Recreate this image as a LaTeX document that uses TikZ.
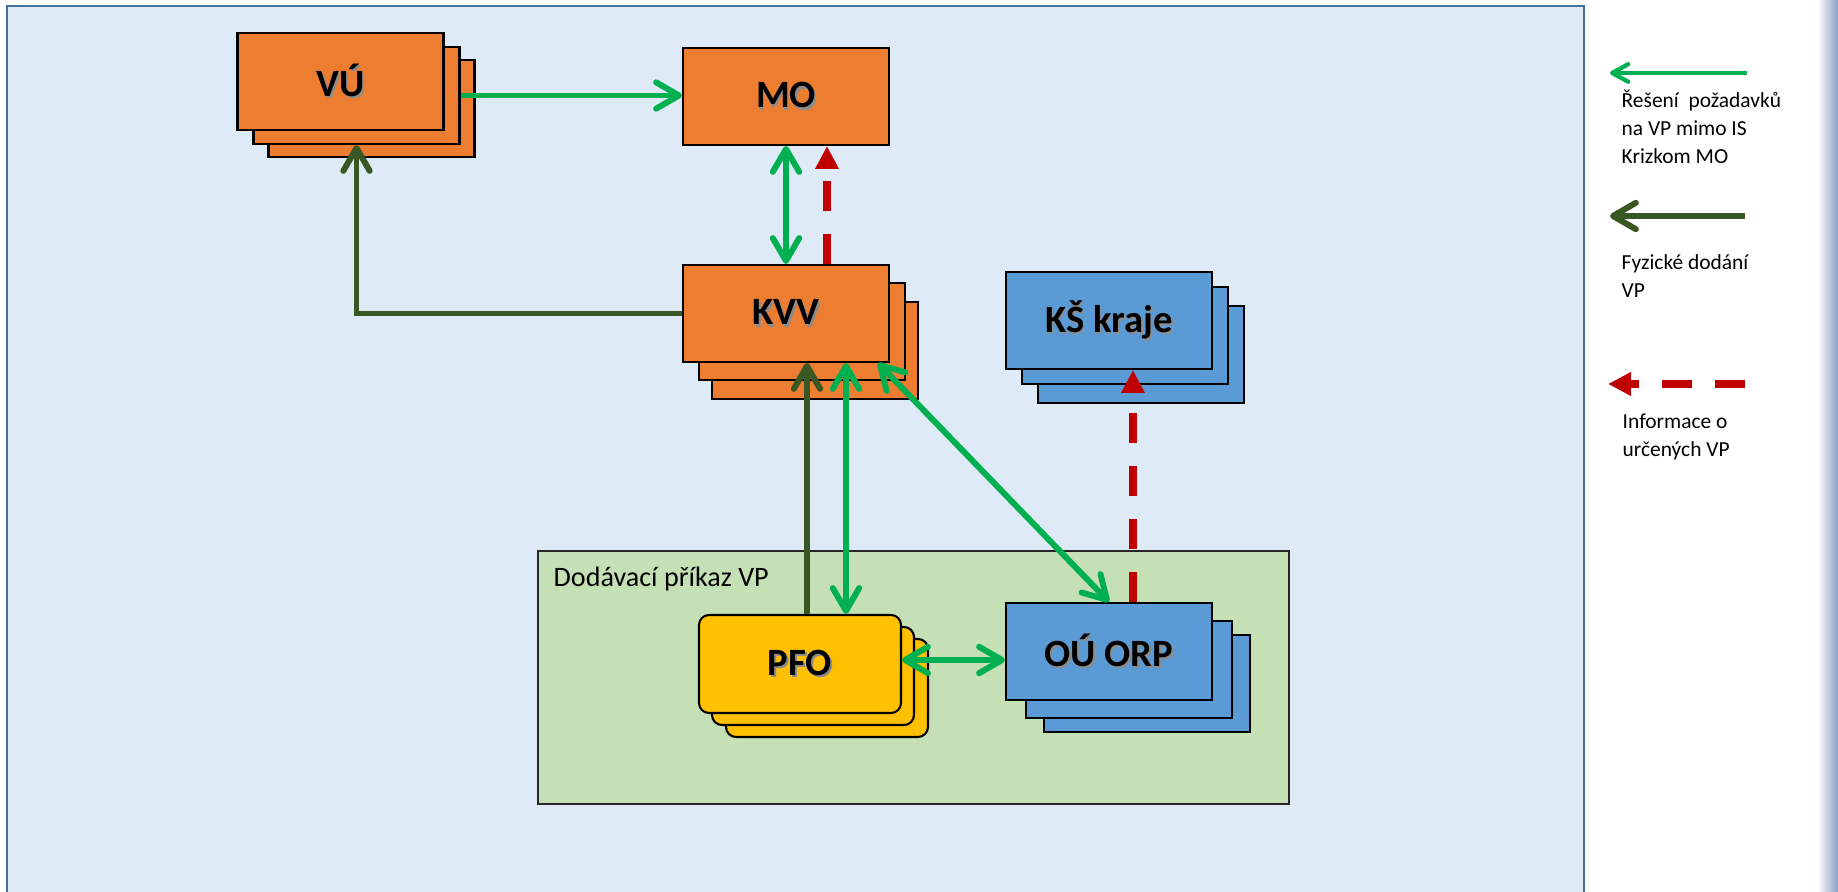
\documentclass[tikz,border=0pt]{standalone}
\usepackage{fontspec}
\setmainfont{Carlito}
\usetikzlibrary{calc,arrows.meta}

\definecolor{boxorange}{HTML}{ED7D31}
\definecolor{boxblue}{HTML}{5B9BD5}
\definecolor{boxyellow}{HTML}{FFC000}
\definecolor{panelblue}{HTML}{DEEAF6}
\definecolor{panelline}{HTML}{41719C}
\definecolor{panelgreen}{HTML}{C5E0B4}
\definecolor{arrowgreen}{HTML}{00B050}
\definecolor{arrowdark}{HTML}{385723}
\definecolor{arrowred}{HTML}{C00000}

\newcommand{\shadowed}[1]{\leavevmode\rlap{\hspace{0.5pt}\raisebox{-0.6pt}{\textcolor{black!45}{#1}}}#1}

\tikzset{
	gbarb/.tip={Straight Barb[length=6.5pt,width=7.5pt,round]},
	stackbox/.style={draw=black, line width=0.6pt, minimum width=2.06cm, minimum height=0.97cm, inner sep=0pt, font=\bfseries\fontsize{11}{13}\selectfont},
	orangebox/.style={stackbox, fill=boxorange},
	bluebox/.style={stackbox, fill=boxblue},
	yellowbox/.style={stackbox, fill=boxyellow, rounded corners=0.1cm, minimum width=2.02cm, minimum height=0.98cm},
	greenarrow/.style={draw=arrowgreen, line width=1.7pt, -gbarb},
	greenboth/.style={draw=arrowgreen, line width=1.7pt, gbarb-gbarb},
	darkarrow/.style={draw=arrowdark, line width=1.7pt, -gbarb},
	redarrow/.style={draw=arrowred, line width=2pt, dash pattern=on 0.3cm off 0.23cm, -{Triangle[length=6.5pt,width=6.3pt]}},
	legendtext/.style={anchor=base west, align=left, inner sep=0pt, font=\fontsize{6.1}{7.97}\selectfont}
}

\begin{document}
\begin{tikzpicture}
	\useasboundingbox (0,0) rectangle (18.38,8.92);
	\fill[white] (0,0) rectangle (18.38,8.92);
	\shade[left color=white, right color={rgb,255:red,140;green,160;blue,200}] (18.17,0) rectangle (18.38,8.92);
	
	%panels
	\fill[panelblue] (0.07,0) rectangle (15.84,8.86);
	\draw[panelline, line width=0.6pt] (0.07,0) |- (15.84,8.86) -- (15.84,0);
	\draw[fill=panelgreen, draw=black!85, line width=0.5pt] (5.38,0.88) rectangle (12.89,3.41);
	\node[anchor=base west, inner sep=0pt, font=\fontsize{8}{9.6}\selectfont] (dptitle) at (5.53,3.05) {Dodávací příkaz VP};
	
	%boxes
	\node[orangebox] (vu3) at (3.715,7.835) {};
	\node[orangebox] (vu2) at (3.565,7.965) {};
	\node[orangebox] (vu) at (3.405,8.105) {\shadowed{VÚ}};
	
	\node[orangebox] (mo) at (7.86,7.955) {\shadowed{MO}};
	
	\node[orangebox] (kvv3) at (8.15,5.415) {};
	\node[orangebox] (kvv2) at (8.02,5.605) {};
	\node[orangebox] (kvv) at (7.86,5.785) {\shadowed{KVV}};
	
	\node[bluebox] (ks3) at (11.41,5.375) {};
	\node[bluebox] (ks2) at (11.25,5.565) {};
	\node[bluebox] (ks) at (11.09,5.715) {\shadowed{KŠ kraje}};
	
	\node[yellowbox] (pfo3) at (8.27,2.04) {};
	\node[yellowbox] (pfo2) at (8.13,2.16) {};
	\node[yellowbox] (pfo) at (8.00,2.28) {\shadowed{PFO}};
	
	\node[bluebox] (ou3) at (11.47,2.085) {};
	\node[bluebox] (ou2) at (11.29,2.225) {};
	\node[bluebox] (ou) at (11.09,2.405) {\shadowed{OÚ ORP}};
	
	%arrows
	\draw[greenarrow] (vu2.east) -- (vu2.east -| mo.west);
	\draw[greenboth] (mo.south) -- (kvv.north);
	\draw[redarrow] ($(kvv.north)+(0.41,0)$) -- ($(mo.south)+(0.41,0)$);
	\draw[darkarrow] (kvv.west) -| (vu2.south);
	\draw[darkarrow] ($(pfo.north)+(0.07,0)$) -- ($(kvv.south)+(0.21,0)$);
	\draw[greenboth] ($(kvv.south)+(0.60,0)$) -- ($(pfo.north)+(0.46,0)$);
	\draw[greenboth] ($(kvv.south east)+(-0.12,0)$) -- (ou.north);
	\draw[greenboth] ($(pfo.east)+(0,0.04)$) -- ($(ou.west)+(0,-0.085)$);
	\draw[redarrow] ($(ou.north)+(0.24,0)$) -- ($(ks.south)+(0.24,0)$);
	
	%legend
	\coordinate (lgreen) at (17.47,8.19); \coordinate (lgreenend) at (16.10,8.19);
	\draw[draw=arrowgreen, line width=1.2pt, -{Straight Barb[length=4.6pt,width=5pt,round]}] (lgreen) -- (lgreenend);
	\node[legendtext] (tgreen) at (16.21,7.28) {Řešení\ \ požadavků\\na VP mimo IS\\Krizkom MO};
	
	\coordinate (ldark) at (17.45,6.76); \coordinate (ldarkend) at (16.10,6.76);
	\draw[darkarrow] (ldark) -- (ldarkend);
	\node[legendtext] (tdark) at (16.21,5.94) {Fyzické dodání\\VP};
	
	\coordinate (lred) at (17.45,5.08); \coordinate (lredend) at (16.08,5.08);
	\draw[redarrow] (lred) -- (lredend);
	\node[legendtext] (tred) at (16.22,4.35) {Informace o\\určených VP};
\end{tikzpicture}
\end{document}
